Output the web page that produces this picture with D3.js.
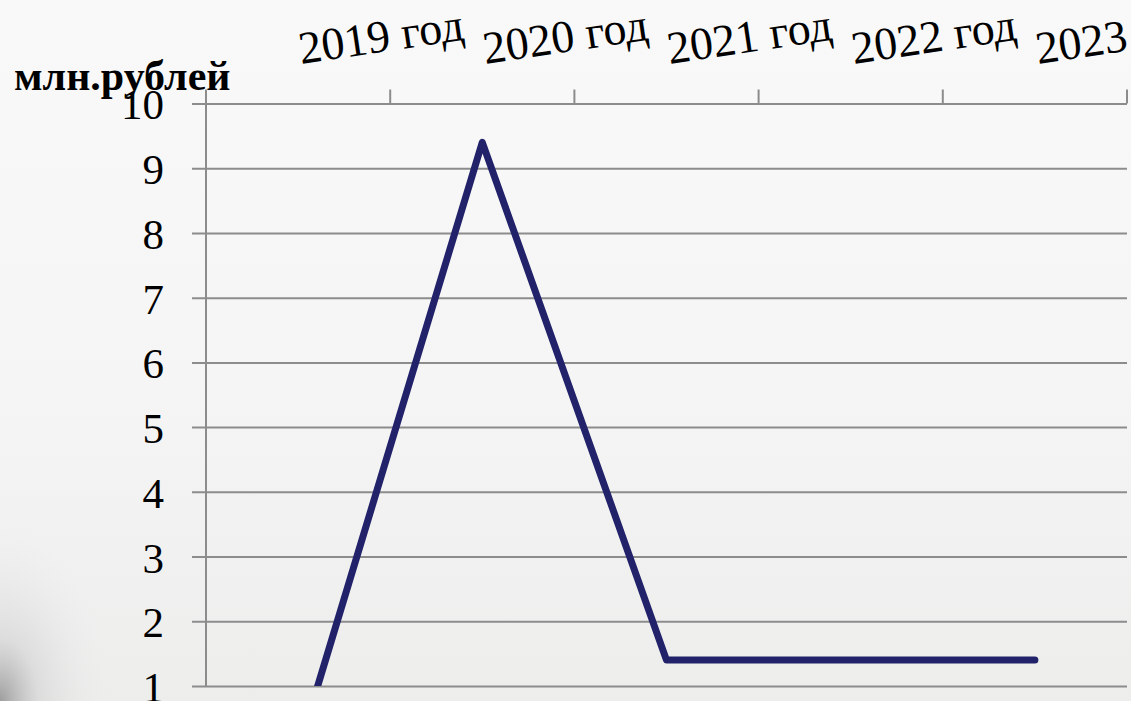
<!DOCTYPE html>
<html>
<head>
<meta charset="utf-8">
<script src="https://cdn.jsdelivr.net/npm/d3@7"></script>
<style>
  html, body { margin: 0; padding: 0; }
  body { width: 1131px; height: 701px; overflow: hidden; }
  svg text { font-family: "Liberation Serif", "Tinos", "Times New Roman", "DejaVu Serif", serif; }
</style>
</head>
<body>
<script>
"use strict";

// values
const years = ["2019 год", "2020 год", "2021 год", "2022 год", "2023"];
const amounts = [0, 9.4, 1.4, 1.4, 1.4];
const yTicks = [1, 2, 3, 4, 5, 6, 7, 8, 9, 10];
const unitLabel = "млн.рублей";

const measurements = {
    width: 1131,
    height: 701,
    left: 206,
    right: 1127,
    top: 103.5,
    bottom: 686
};

const svg = d3.select("body").append("svg")
    .attr("width", measurements.width)
    .attr("height", measurements.height);

// background: light gray with a shadow in the lower left corner
const defs = svg.append("defs");
const bg = defs.append("linearGradient")
    .attr("id", "bg").attr("x1", 0).attr("y1", 0).attr("x2", 0).attr("y2", 1);
bg.append("stop").attr("offset", "0%").attr("stop-color", "#f9f9f9");
bg.append("stop").attr("offset", "55%").attr("stop-color", "#f5f5f5");
bg.append("stop").attr("offset", "100%").attr("stop-color", "#ededec");

const shade = defs.append("radialGradient")
    .attr("id", "shade").attr("cx", 0).attr("cy", 1).attr("r", 1)
    .attr("gradientUnits", "objectBoundingBox");
shade.append("stop").attr("offset", "0%").attr("stop-color", "#8a8a8a").attr("stop-opacity", 0.8);
shade.append("stop").attr("offset", "35%").attr("stop-color", "#c8c8c8").attr("stop-opacity", 0.45);
shade.append("stop").attr("offset", "100%").attr("stop-color", "#eeeeee").attr("stop-opacity", 0);

svg.append("rect")
    .attr("width", measurements.width).attr("height", measurements.height)
    .attr("fill", "url(#bg)");
svg.append("rect")
    .attr("x", 0).attr("y", 520).attr("width", 110).attr("height", 181)
    .attr("fill", "url(#shade)");

const scaleX = d3.scaleBand()
    .domain(years)
    .range([measurements.left, measurements.right]);

const scaleY = d3.scaleLinear()
    .domain([1, 10])
    .range([measurements.bottom, measurements.top]);

// horizontal gridlines with left tick stubs
const yAxis = d3.axisLeft(scaleY)
    .tickValues(yTicks)
    .tickSize(-(measurements.right - measurements.left))
    .tickSizeOuter(0)
    .tickFormat(d3.format("d"));

const gy = svg.append("g")
    .attr("transform", `translate(${measurements.left},0)`)
    .call(yAxis);
gy.select(".domain").remove();
gy.selectAll(".tick line")
    .attr("x1", -14)
    .attr("stroke", "#8c8c8c")
    .attr("stroke-width", 2);
gy.selectAll(".tick text")
    .attr("x", -42)
    .attr("dy", "0.36em")
    .style("font-size", "43px")
    .attr("fill", "#000");

// vertical axis line
svg.append("line")
    .attr("x1", measurements.left).attr("x2", measurements.left)
    .attr("y1", measurements.top - 14).attr("y2", measurements.bottom)
    .attr("stroke", "#8c8c8c").attr("stroke-width", 2);

// top category axis: tick marks at band edges
svg.append("g").selectAll("line")
    .data(years)
    .enter()
    .append("line")
    .attr("x1", (d) => scaleX(d) + scaleX.bandwidth())
    .attr("x2", (d) => scaleX(d) + scaleX.bandwidth())
    .attr("y1", measurements.top - 14)
    .attr("y2", measurements.top)
    .attr("stroke", "#8c8c8c")
    .attr("stroke-width", 2);

svg.append("g").selectAll("text")
    .data(years)
    .enter()
    .append("text")
    .attr("transform", (d) => `translate(${scaleX(d) + scaleX.bandwidth() / 2 + 3},64) rotate(-8.5)`)
    .style("font-size", "46px")
    .attr("fill", "#000")
    .text((d) => d);

// unit label
svg.append("text")
    .attr("x", 14)
    .attr("y", 90)
    .style("font-size", "42px")
    .style("font-weight", "bold")
    .attr("fill", "#000")
    .text(unitLabel);

// data line, clipped to the plot area
defs.append("clipPath").attr("id", "plot")
    .append("rect")
    .attr("x", measurements.left).attr("y", 0)
    .attr("width", measurements.width - measurements.left)
    .attr("height", measurements.bottom);

const line = d3.line()
    .x((d, i) => scaleX(years[i]) + scaleX.bandwidth() / 2)
    .y((d) => scaleY(d));

svg.append("path")
    .datum(amounts)
    .attr("clip-path", "url(#plot)")
    .attr("d", line)
    .attr("fill", "none")
    .attr("stroke", "#22226a")
    .attr("stroke-width", 7)
    .attr("stroke-linejoin", "round")
    .attr("stroke-linecap", "round");
</script>
</body>
</html>
